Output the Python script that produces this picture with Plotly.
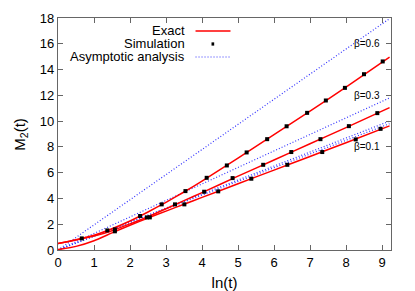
import plotly.graph_objects as go

# ---- data ----
x_exact = [0, 0.5, 1.0, 1.5, 2.0, 2.5, 3.0, 3.5, 4.0, 5.0, 6.0, 7.0, 8.0, 9.21]
exact_06 = [0.5, 0.8, 1.15, 1.65, 2.25, 2.95, 3.7, 4.5, 5.35, 7.13, 8.95, 10.77, 12.63, 14.97]
exact_03 = [0.5, 0.78, 1.08, 1.5, 2.03, 2.58, 3.2, 3.83, 4.45, 5.73, 6.98, 8.24, 9.5, 11.05]
exact_01 = [0.03, 0.28, 0.72, 1.33, 1.92, 2.48, 3.02, 3.55, 4.08, 5.14, 6.2, 7.26, 8.32, 9.63]

sim06_x = [0.66, 1.37, 2.28, 2.88, 3.54, 4.13, 4.69, 5.24, 5.81, 6.35, 6.92, 7.44, 7.97, 8.5, 9.02]
sim06_y = [0.9, 1.52, 2.64, 3.54, 4.57, 5.6, 6.56, 7.57, 8.6, 9.6, 10.64, 11.6, 12.58, 13.64, 14.63]
sim03_x = [1.58, 2.47, 3.25, 4.06, 4.85, 5.7, 6.48, 7.29, 8.08, 8.87]
sim03_y = [1.6, 2.53, 3.54, 4.52, 5.58, 6.61, 7.6, 8.6, 9.61, 10.62]
sim01_x = [1.58, 2.55, 3.51, 4.45, 5.37, 6.37, 7.34, 8.27, 8.96]
sim01_y = [1.45, 2.53, 3.54, 4.55, 5.53, 6.61, 7.6, 8.58, 9.4]

x_asym = [0, 9.21]
asym_06 = [0, 17.95]
asym_03 = [0, 11.8]
asym_01a = [0, 10.0]
asym_01b = [0, 9.8]

beta_labels = ["β=0.6", "β=0.3", "β=0.1"]
beta_label_y = [16, 12, 8]

x_ticks = list(range(0, 10))
y_ticks = list(range(0, 19, 2))

legend_labels = ["Exact", "Simulation", "Asymptotic analysis"]

RED = "#ff0000"
BLUE = "#3333ff"
FONT = "Liberation Sans, Arial, sans-serif"
DOT = "1px,2px"

fig = go.Figure()
for ys in (asym_06, asym_03, asym_01a, asym_01b):
    fig.add_trace(go.Scatter(x=x_asym, y=ys, mode="lines",
                             line=dict(color=BLUE, width=1.2, dash=DOT),
                             showlegend=False, hoverinfo="skip"))
for ys in (exact_06, exact_03, exact_01):
    fig.add_trace(go.Scatter(x=x_exact, y=ys, mode="lines",
                             line=dict(color=RED, width=1.5, shape="spline", smoothing=0.6),
                             showlegend=False))
for xs, ys in ((sim06_x, sim06_y), (sim03_x, sim03_y), (sim01_x, sim01_y)):
    fig.add_trace(go.Scatter(x=xs, y=ys, mode="markers",
                             marker=dict(color="black", size=4, symbol="square"),
                             showlegend=False))

# beta labels
for t, yv in zip(beta_labels, beta_label_y):
    fig.add_annotation(x=0.972, xref="paper", y=yv, yref="y", text=t,
                       showarrow=False, xanchor="right", yanchor="middle",
                       font=dict(family=FONT, size=10, color="black"))

# legend (gnuplot style: right-aligned text, sample on the right)
leg_y = [0.944, 0.888, 0.832]
for t, yv in zip(legend_labels, leg_y):
    fig.add_annotation(x=0.388, xref="paper", y=yv, yref="paper", text=t,
                       showarrow=False, xanchor="right", yanchor="middle",
                       font=dict(family=FONT, size=13, color="black"))
fig.add_shape(type="line", xref="paper", yref="paper", x0=0.413, x1=0.518,
              y0=leg_y[0], y1=leg_y[0], line=dict(color=RED, width=1.5))
fig.add_shape(type="rect", xref="paper", yref="paper", x0=0.461, x1=0.469,
              y0=leg_y[1] - 0.007, y1=leg_y[1] + 0.007,
              line=dict(width=0), fillcolor="black")
fig.add_shape(type="line", xref="paper", yref="paper", x0=0.413, x1=0.518,
              y0=leg_y[2], y1=leg_y[2], line=dict(color=BLUE, width=1.2, dash=DOT))

# y-axis title (rotated text, kept inside the figure)
fig.add_annotation(x=-0.115, xref="paper", y=0.5, yref="paper", text="M<sub>2</sub>(t)",
                   textangle=-90, showarrow=False, xanchor="center", yanchor="middle",
                   font=dict(family=FONT, size=15, color="black"))

axis_common = dict(showgrid=False, zeroline=False, showline=True, mirror="ticks",
                   linecolor="#666666", linewidth=1.2, ticks="inside", ticklen=5,
                   tickcolor="#666666", automargin=False, ticklabeloverflow="allow",
                   tickfont=dict(family=FONT, size=13, color="black"))

fig.update_layout(
    width=407, height=283,
    margin=dict(l=50, r=24, t=10, b=41),
    paper_bgcolor="white", plot_bgcolor="white",
    font=dict(family=FONT, size=13, color="black"),
    xaxis=dict(range=[0, 9.25], tickvals=x_ticks,
               title=dict(text="ln(t)", standoff=12, font=dict(family=FONT, size=15)),
               **axis_common),
    yaxis=dict(range=[0, 18], tickvals=y_ticks, **axis_common),
    showlegend=False,
)

fig.write_html("out.html")
